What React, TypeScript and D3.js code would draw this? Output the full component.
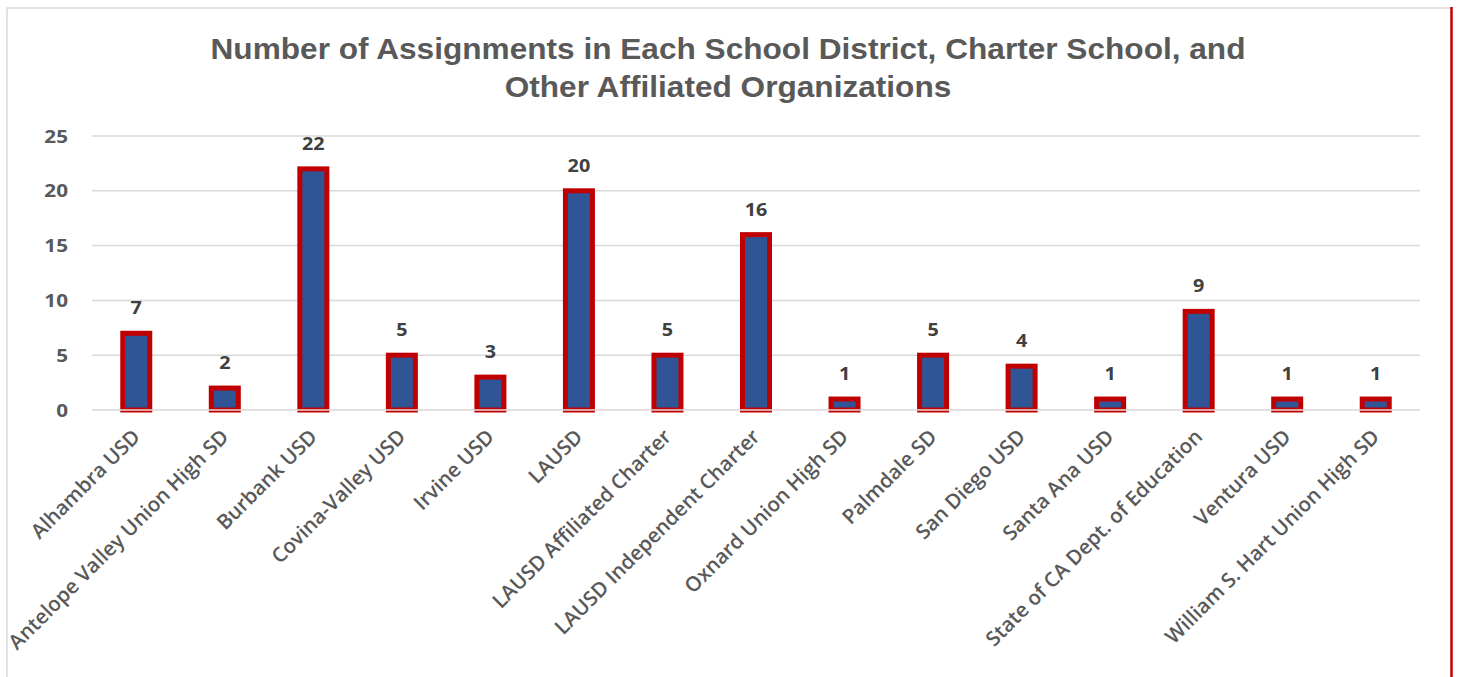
import React, { useEffect, useRef } from 'react';
import * as d3 from 'd3';

const width = 1458;
const height = 677;
const margin = { top: 136, right: 38, bottom: 267, left: 92 };

const titleLines = [
  'Number of Assignments in Each School District, Charter School, and',
  'Other Affiliated Organizations',
];

const districts = [
  'Alhambra USD',
  'Antelope Valley Union High SD',
  'Burbank USD',
  'Covina-Valley USD',
  'Irvine USD',
  'LAUSD',
  'LAUSD Affiliated Charter',
  'LAUSD Independent Charter',
  'Oxnard Union High SD',
  'Palmdale SD',
  'San Diego USD',
  'Santa Ana USD',
  'State of CA Dept. of Education',
  'Ventura USD',
  'William S. Hart Union High SD',
];

const assignments = [7, 2, 22, 5, 3, 20, 5, 16, 1, 5, 4, 1, 9, 1, 1];

const yTicks = [0, 5, 10, 15, 20, 25];

const App = () => {
  const ref = useRef<SVGSVGElement>(null);

  useEffect(() => {
    if (!ref.current) return;
    const svg = d3.select(ref.current);
    svg.selectAll('*').remove();

    const plotW = width - margin.left - margin.right;
    const plotH = height - margin.top - margin.bottom;

    const x = d3
      .scaleBand<string>()
      .domain(districts)
      .range([margin.left, margin.left + plotW])
      .padding(0);

    const y = d3
      .scaleLinear()
      .domain([0, 25])
      .range([margin.top + plotH, margin.top]);

    // chart frame
    svg
      .append('rect')
      .attr('x', 0)
      .attr('y', 0)
      .attr('width', width)
      .attr('height', height)
      .attr('fill', 'white');
    svg
      .append('path')
      .attr('d', `M7,${height} V8 H1451`)
      .attr('fill', 'none')
      .attr('stroke', '#d9d9d9')
      .attr('stroke-width', 1.5);
    svg
      .append('line')
      .attr('x1', 1451.5)
      .attr('x2', 1451.5)
      .attr('y1', 7)
      .attr('y2', height)
      .attr('stroke', '#c00000')
      .attr('stroke-width', 2.5);

    // title (slightly wide, like the source rendering)
    svg
      .append('g')
      .selectAll('text')
      .data(titleLines)
      .enter()
      .append('text')
      .attr('transform', (_d, i) => `translate(728, ${59 + i * 38}) scale(1.09, 1)`)
      .attr('text-anchor', 'middle')
      .style('font-family', '"Liberation Sans", Arial, sans-serif')
      .style('font-weight', 700)
      .style('font-size', '29px')
      .attr('fill', '#595959')
      .text((d) => d);

    // gridlines + y labels
    svg
      .append('g')
      .selectAll('line')
      .data(yTicks)
      .enter()
      .append('line')
      .attr('x1', margin.left)
      .attr('x2', margin.left + plotW)
      .attr('y1', (d) => y(d))
      .attr('y2', (d) => y(d))
      .attr('stroke', '#d9d9d9')
      .attr('stroke-width', 1.5);

    svg
      .append('g')
      .selectAll('text')
      .data(yTicks)
      .enter()
      .append('text')
      .attr('transform', (d) => `translate(68, ${y(d) + 6.5}) scale(1.15, 1)`)
      .attr('text-anchor', 'end')
      .style('font-family', '"Open Sans", sans-serif')
      .style('font-weight', 700)
      .style('font-size', '18px')
      .attr('fill', '#595959')
      .text((d) => d);

    // bars
    const rows = districts.map((name, i) => ({ name, value: assignments[i] }));
    const barW = 27;
    const cx = (d: { name: string }) => (x(d.name) ?? 0) + x.bandwidth() / 2;

    svg
      .append('g')
      .selectAll('rect')
      .data(rows)
      .enter()
      .append('rect')
      .attr('x', (d) => cx(d) - barW / 2)
      .attr('y', (d) => y(d.value))
      .attr('width', barW)
      .attr('height', (d) => y(0) - y(d.value))
      .attr('fill', '#2f5597')
      .attr('stroke', '#c00000')
      .attr('stroke-width', 5);

    // zero line sits over the bar bottoms
    svg
      .append('line')
      .attr('x1', margin.left)
      .attr('x2', margin.left + plotW)
      .attr('y1', y(0))
      .attr('y2', y(0))
      .attr('stroke', '#e6dede')
      .attr('stroke-width', 1.5);

    // value labels
    svg
      .append('g')
      .selectAll('text')
      .data(rows)
      .enter()
      .append('text')
      .attr('transform', (d) => `translate(${cx(d)}, ${y(d.value) - 19}) scale(1.1, 1)`)
      .attr('text-anchor', 'middle')
      .style('font-family', '"Open Sans", sans-serif')
      .style('font-weight', 700)
      .style('font-size', '18px')
      .attr('fill', '#404040')
      .text((d) => d.value);

    // category labels
    svg
      .append('g')
      .selectAll('text')
      .data(rows)
      .enter()
      .append('text')
      .attr('transform', (d) => `translate(${cx(d) + 5}, 438) rotate(-45)`)
      .attr('text-anchor', 'end')
      .style('font-family', '"Open Sans", sans-serif')
      .style('font-weight', 600)
      .style('font-size', '20.5px')
      .attr('fill', '#595959')
      .text((d) => d.name);
  }, []);

  return (
    <svg
      ref={ref}
      width={width}
      height={height}
      style={{ position: 'absolute', left: 0, top: 0, display: 'block' }}
    />
  );
};

export default App;
